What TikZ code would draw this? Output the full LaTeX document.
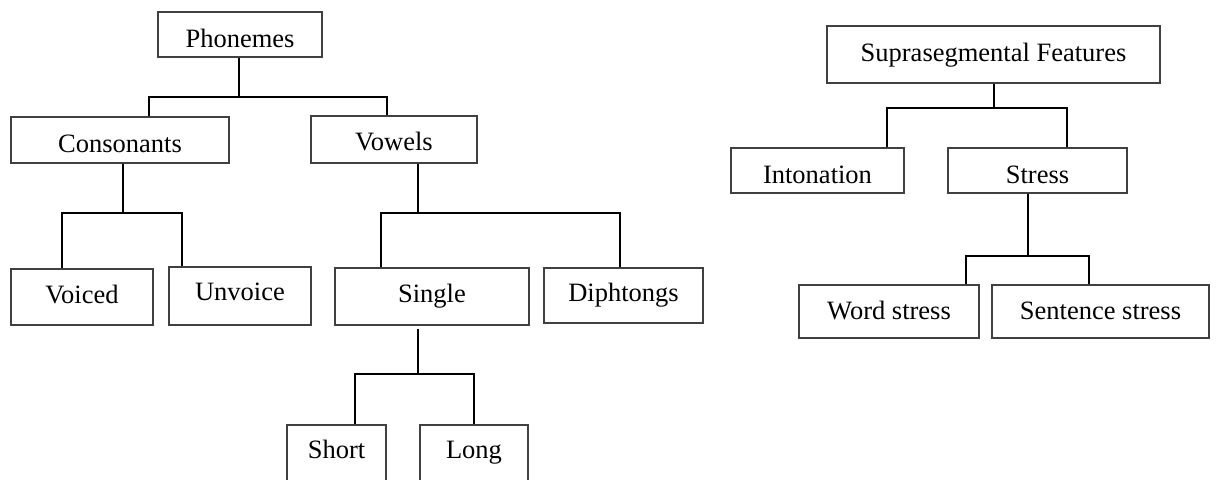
\documentclass[tikz,border=0pt]{standalone}
\usepackage{fontspec}
\setmainfont{Liberation Serif}
\begin{document}
\begin{tikzpicture}[x=1pt, y=-1pt,
  box/.style={draw=black!75, line width=1.1pt, inner sep=0pt, align=center, text height=18.5pt, text depth=6.5pt, font=\fontsize{26.5}{30}\selectfont},
  link/.style={draw, line width=1.8pt, color=black}]
  \useasboundingbox (0,0) rectangle (1217,479);
  \clip (0,0) rectangle (1217,479);
  \node[box, minimum width=164pt, minimum height=45pt, text height=31.5pt] (phon)    at (240,34.5)    {Phonemes};
  \node[box, minimum width=218pt, minimum height=46pt, text height=30.5pt] (cons)    at (120,140)     {Consonants};
  \node[box, minimum width=166pt, minimum height=47pt, text height=27.5pt] (vow)     at (394,139.5)   {Vowels};
  \node[box, minimum width=142pt, minimum height=56pt] (voiced)  at (82,297)      {Voiced};
  \node[box, minimum width=142pt, minimum height=58pt, text height=14.5pt] (unvoice) at (240,296)     {Unvoice};
  \node[box, minimum width=194pt, minimum height=57pt] (single)  at (432,296.5)   {Single};
  \node[box, minimum width=159pt, minimum height=55pt] (diph)    at (623.5,295.5) {Diphtongs};
  \node[box, minimum width=99pt,  minimum height=60pt, text height=12.5pt] (short)   at (336.5,455)   {Short};
  \node[box, minimum width=108pt, minimum height=60pt, text height=12.5pt] (long)    at (474,455)     {Long};
  \node[box, minimum width=333pt, minimum height=57pt, text height=20.5pt] (supra)   at (993.5,54.5)  {Suprasegmental Features};
  \node[box, minimum width=173pt, minimum height=45pt, text height=31.5pt] (inton)   at (817.5,170.5) {Intonation};
  \node[box, minimum width=179pt, minimum height=45pt, text height=31.5pt] (stress)  at (1037.5,170.5){Stress};
  \node[box, minimum width=180pt, minimum height=53pt, text height=21.5pt] (word)    at (889,311.5)   {Word stress};
  \node[box, minimum width=217pt, minimum height=53pt, text height=21.5pt] (sent)    at (1100.5,311.5){Sentence stress};
  \coordinate (j1) at (239,97);   \coordinate (j1l) at (149,97);   \coordinate (j1r) at (387,97);
  \coordinate (j2) at (123,213);  \coordinate (j2l) at (62,213);   \coordinate (j2r) at (182,213);
  \coordinate (j3) at (418,213);  \coordinate (j3l) at (381,213);  \coordinate (j3r) at (620,213);
  \coordinate (j4) at (418,374);  \coordinate (j4l) at (355,374);  \coordinate (j4r) at (474,374);
  \coordinate (j5) at (994,108);  \coordinate (j5l) at (887,108);  \coordinate (j5r) at (1067,108);
  \coordinate (j6) at (1028,256); \coordinate (j6l) at (966,256);  \coordinate (j6r) at (1089,256);
  \draw[link] (phon.south -| j1) -- (j1);  \draw[link] (cons.north -| j1l) -- (j1l) -- (j1r) -- (vow.north -| j1r);
  \draw[link] (cons.south -| j2) -- (j2);  \draw[link] (voiced.north -| j2l) -- (j2l) -- (j2r) -- (unvoice.north -| j2r);
  \draw[link] (vow.south -| j3) -- (j3);   \draw[link] (single.north -| j3l) -- (j3l) -- (j3r) -- (diph.north -| j3r);
  \draw[link] ([yshift=-3pt]single.south -| j4) -- (j4); \draw[link] (short.north -| j4l) -- (j4l) -- (j4r) -- (long.north -| j4r);
  \draw[link] (supra.south -| j5) -- (j5); \draw[link] (inton.north -| j5l) -- (j5l) -- (j5r) -- (stress.north -| j5r);
  \draw[link] (stress.south -| j6) -- (j6); \draw[link] (word.north -| j6l) -- (j6l) -- (j6r) -- (sent.north -| j6r);
\end{tikzpicture}
\end{document}
